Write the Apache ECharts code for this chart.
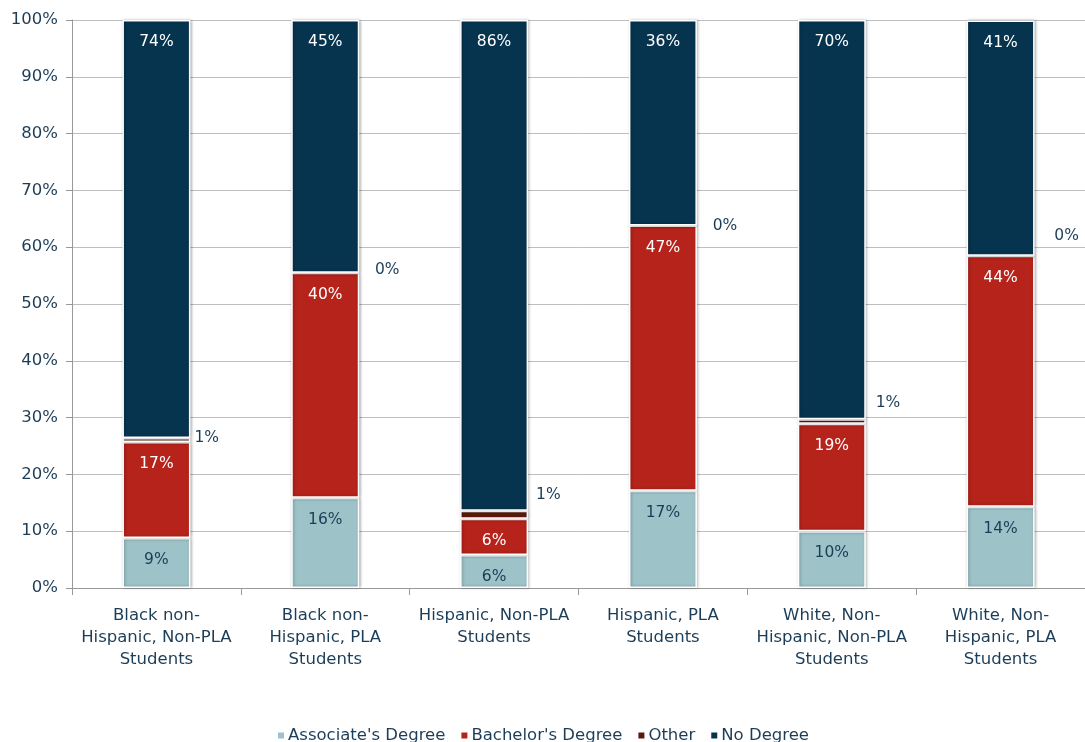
<!DOCTYPE html>
<html><head><meta charset="utf-8">
<script src="https://cdn.jsdelivr.net/npm/echarts@6/dist/echarts.min.js"></script>
<style>html,body{margin:0;padding:0;background:#fff}#c{width:1085px;height:742px}</style>
</head><body><div id="c"></div>
<script>
const categories = [
  "Black non-\nHispanic, Non-PLA\nStudents",
  "Black non-\nHispanic, PLA\nStudents",
  "Hispanic, Non-PLA\nStudents",
  "Hispanic, PLA\nStudents",
  "White, Non-\nHispanic, Non-PLA\nStudents",
  "White, Non-\nHispanic, PLA\nStudents"
];
const associate = [8.8, 15.9, 5.8, 17.1, 10.0, 14.3];
const bachelor  = [16.9, 39.6, 6.4, 46.7, 18.9, 44.2];
const other     = [0.7, 0, 1.4, 0, 0.8, 0];
const noDegree  = [73.6, 44.5, 86.4, 36.2, 70.3, 41.4];
const yTicks = [0, 10, 20, 30, 40, 50, 60, 70, 80, 90, 100];

// label offsets for the small "Other" labels (layout only)
const otherLabelOffsets = [[-2, -2], [9, -3], [2, -20], [9, 0], [4, -19], [13, -20]];

const FONT = "DejaVu Sans";
const TXT = "#1c3d57";
const fmt = p => Math.round(p.value) + "%";
const common = {
  type: "bar", stack: "s", barWidth: 68,
  itemStyle: { borderColor: "#fff", borderWidth: 1.5, shadowColor: "rgba(0,0,0,0.3)", shadowBlur: 3, shadowOffsetX: 1 }
};
const inLabel = (color) => ({ show: true, position: "insideTop", distance: 14, formatter: fmt, color, fontFamily: FONT, fontSize: 15.5 });

const chart = echarts.init(document.getElementById("c"));
chart.setOption({
  animation: false,
  textStyle: { fontFamily: FONT },
  grid: { left: 72, right: 0, top: 20, bottom: 154 },
  legend: {
    bottom: -7, left: "center", itemWidth: 8, itemHeight: 8, itemGap: 14,
    textStyle: { fontFamily: FONT, fontSize: 16.5, color: TXT, padding: [0, 0, 0, -2] },
    data: [
      { name: "Associate's Degree", icon: "rect" },
      { name: "Bachelor's Degree", icon: "rect" },
      { name: "Other", icon: "rect" },
      { name: "No Degree", icon: "rect" }
    ]
  },
  xAxis: {
    type: "category", data: categories,
    axisLine: { lineStyle: { color: "#999" } },
    axisTick: { show: true, length: 7, lineStyle: { color: "#999" } },
    axisLabel: { color: TXT, fontFamily: FONT, fontSize: 16.5, lineHeight: 22, margin: 17, interval: 0 }
  },
  yAxis: {
    type: "value", min: 0, max: 100, interval: 10,
    axisLine: { show: true, lineStyle: { color: "#999" } },
    axisTick: { show: true, length: 6, lineStyle: { color: "#999" } },
    splitLine: { lineStyle: { color: "#bdbdc2", width: 1 } },
    axisLabel: { color: TXT, fontFamily: FONT, fontSize: 16.5, margin: 14,
      formatter: v => yTicks.includes(v) ? v + "%" : "" }
  },
  series: [
    Object.assign({}, common, { name: "Associate's Degree", data: associate, color: "#9dc3c8", label: inLabel(TXT) }),
    Object.assign({}, common, { name: "Bachelor's Degree", data: bachelor, color: "#b5231b", label: inLabel("#fff") }),
    Object.assign({}, common, { name: "Other", color: "#5a1a0a",
      data: other.map((v, i) => ({ value: v, label: { offset: otherLabelOffsets[i] } })),
      label: { show: true, position: "right", distance: 6, formatter: fmt, color: TXT, fontFamily: FONT, fontSize: 15.5 } }),
    Object.assign({}, common, { name: "No Degree", data: noDegree, color: "#06344f", label: inLabel("#fff") })
  ]
});
</script></body></html>
